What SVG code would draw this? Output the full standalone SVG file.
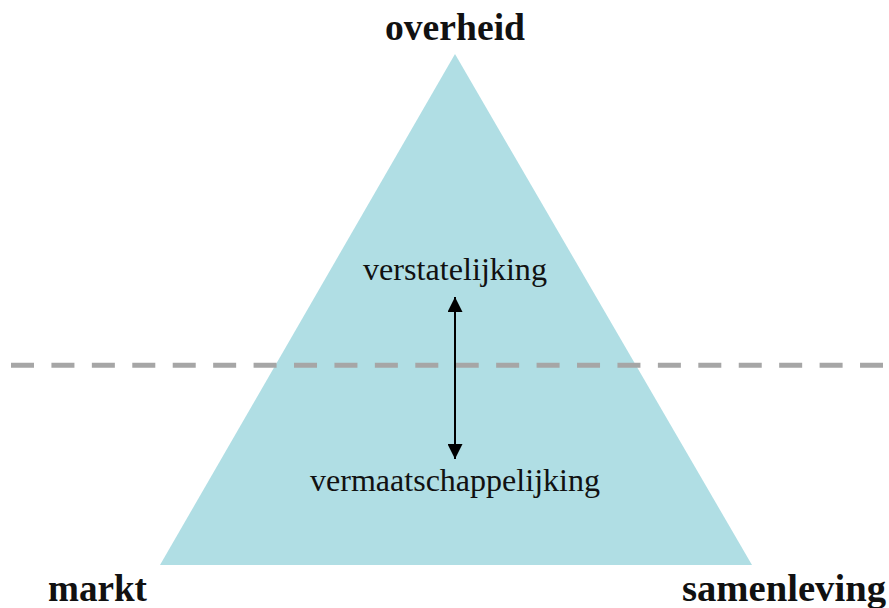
<svg xmlns="http://www.w3.org/2000/svg" width="889" height="608" viewBox="0 0 889 608">
<style>
.lbl{font-family:"Liberation Serif","Times New Roman",serif;fill:#111;}
.b{font-weight:bold;font-size:37px;}
.r{font-size:31px;}
</style>
<defs>
<marker id="ah" viewBox="0 0 10 10" refX="10" refY="5" markerWidth="15" markerHeight="15" markerUnits="userSpaceOnUse" orient="auto">
<path d="M0,0 L10,5 L0,10 Z" fill="#000"/>
</marker>
</defs>
<g id="triangle"><polygon points="455,54 160,565 752,565" fill="#b0dee4"/></g>
<g id="divider"><line x1="11" y1="365.3" x2="883" y2="365.3" stroke="#a6a6a6" stroke-width="5" stroke-dasharray="23 17.43"/></g>
<g id="connectors">
<line x1="455" y1="380" x2="455" y2="297" stroke="#000" stroke-width="2" marker-end="url(#ah)"/>
<line x1="455" y1="380" x2="455" y2="459" stroke="#000" stroke-width="2" marker-end="url(#ah)"/>
</g>
<g id="overheid"><text class="lbl b" x="385" y="40" textLength="140" lengthAdjust="spacingAndGlyphs">overheid</text></g>
<g id="markt"><text class="lbl b" x="48" y="601" textLength="99" lengthAdjust="spacingAndGlyphs">markt</text></g>
<g id="samenleving"><text class="lbl b" x="682" y="601" textLength="204" lengthAdjust="spacingAndGlyphs">samenleving</text></g>
<g id="verstatelijking"><text class="lbl r" x="363" y="280" textLength="184" lengthAdjust="spacingAndGlyphs">verstatelijking</text></g>
<g id="vermaatschappelijking"><text class="lbl r" x="310" y="491" textLength="290" lengthAdjust="spacingAndGlyphs">vermaatschappelijking</text></g>
</svg>
